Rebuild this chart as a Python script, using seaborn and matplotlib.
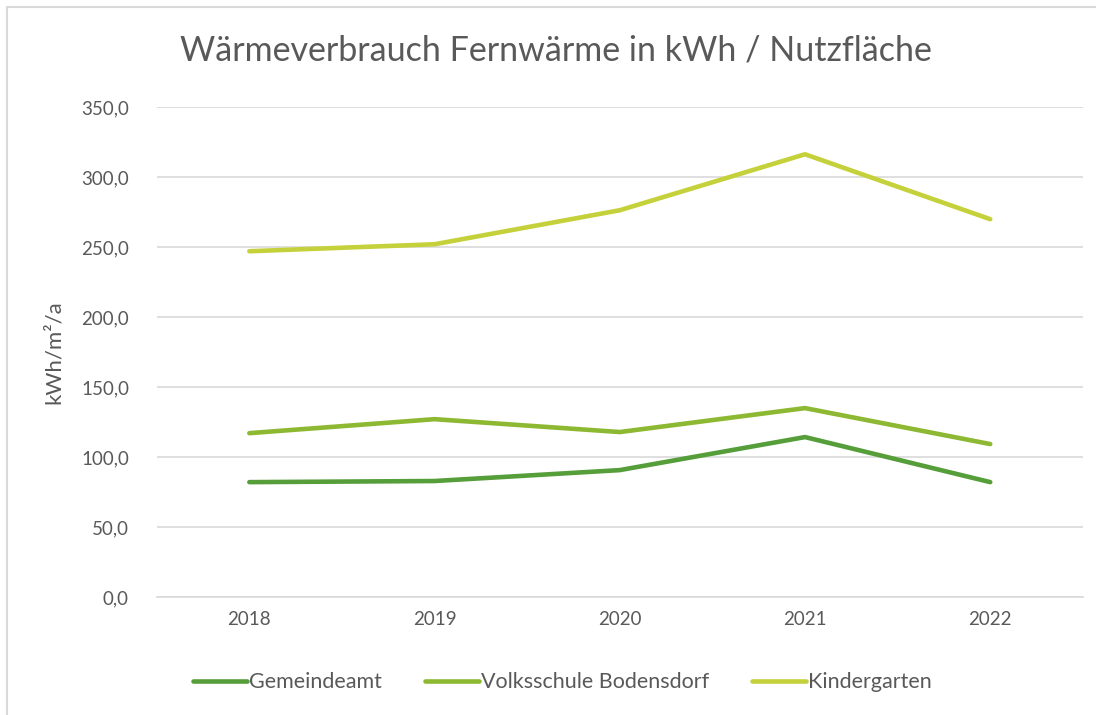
import matplotlib
matplotlib.use("Agg")
import matplotlib.pyplot as plt
import pandas as pd
import seaborn as sns
from matplotlib.patches import Rectangle

years = ["2018", "2019", "2020", "2021", "2022"]
gemeindeamt = [82.1, 82.9, 90.7, 114.3, 82.1]
volksschule = [117.1, 127.1, 117.9, 135.0, 109.3]
kindergarten = [247.1, 252.1, 276.4, 316.4, 270.0]
series_names = ["Gemeindeamt", "Volksschule Bodensdorf", "Kindergarten"]
colors = ["#559E3A", "#8DB832", "#C5D13A"]

df = pd.DataFrame({
    "Jahr": years * 3,
    "Wert": gemeindeamt + volksschule + kindergarten,
    "Gebäude": [n for n in series_names for _ in years],
})

sns.set_theme(style="white")
plt.rcParams["font.family"] = ["Lato", "DejaVu Sans"]
grey = "#595959"

fig = plt.figure(figsize=(10.96, 7.15), dpi=100)
ax = fig.add_axes([0.143, 0.165, 0.845, 0.685])

sns.lineplot(data=df, x="Jahr", y="Wert", hue="Gebäude", palette=colors,
             linewidth=3.3, ax=ax, sort=False)
for ln in ax.lines:
    ln.set_solid_capstyle("round")
    ln.set_solid_joinstyle("round")

ax.set_xlim(-0.5, 4.5)
ax.set_ylim(0, 350)
ax.set_yticks(range(0, 351, 50))
ax.set_yticklabels([f"{v},0" for v in range(0, 351, 50)])
ax.yaxis.grid(True, color="#D9D9D9", linewidth=1.2)
ax.set_axisbelow(True)
for s in ["top", "right", "left"]:
    ax.spines[s].set_visible(False)
ax.spines["bottom"].set_color("#D9D9D9")
ax.spines["bottom"].set_linewidth(1.2)
ax.tick_params(axis="both", length=0, labelsize=13.5, colors=grey, pad=10)
ax.tick_params(axis="y", pad=20)
ax.set_xlabel("")
ax.set_ylabel("kWh/m²/a", fontsize=16, color=grey, labelpad=12)

fig.text(0.507, 0.93, "Wärmeverbrauch Fernwärme in kWh / Nutzfläche",
         ha="center", va="center", fontsize=24.5, color=grey)

handles, labels = ax.get_legend_handles_labels()
ax.legend(handles, labels, loc="center", ncol=3, frameon=False,
          fontsize=15.5, labelcolor=grey, handlelength=2.5,
          handletextpad=0.1, columnspacing=2.0)
leg = ax.get_legend()
leg.set_bbox_to_anchor((0.513, 0.046), transform=fig.transFigure)

fig.patches.append(Rectangle((0.0065, -0.01), 1.0, 1.0 - 0.0098 + 0.01,
                             transform=fig.transFigure, fill=False,
                             edgecolor="#D9D9D9", linewidth=1.5))

fig.savefig("out.png", dpi=100)
